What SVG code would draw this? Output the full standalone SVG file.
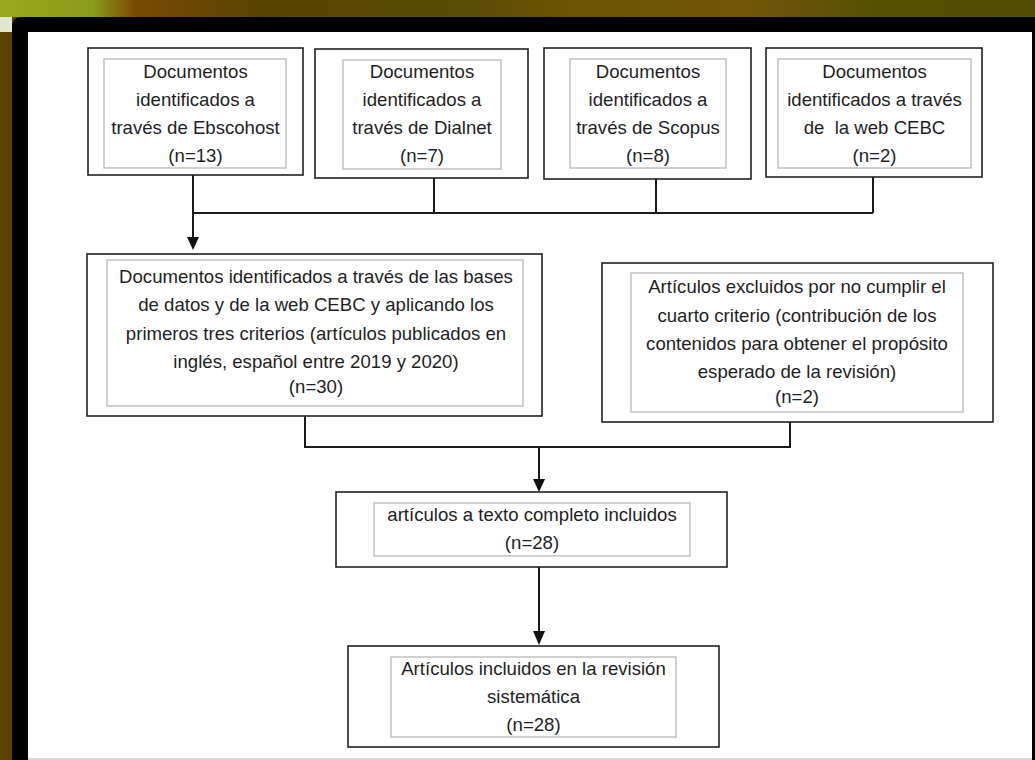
<svg xmlns="http://www.w3.org/2000/svg" width="1035" height="760" viewBox="0 0 1035 760">
<defs>
<linearGradient id="band" x1="0" y1="0" x2="1" y2="0">
<stop offset="0" stop-color="#9aa91c"/>
<stop offset="0.09" stop-color="#8a9a1a"/>
<stop offset="0.13" stop-color="#7a4a02"/>
<stop offset="0.25" stop-color="#584400"/>
<stop offset="0.45" stop-color="#5a4c02"/>
<stop offset="0.55" stop-color="#6c5404"/>
<stop offset="0.72" stop-color="#72560a"/>
<stop offset="0.85" stop-color="#555000"/>
<stop offset="1" stop-color="#4f4e00"/>
</linearGradient>
<marker id="arr" viewBox="0 0 12 12" markerWidth="12" markerHeight="12" refX="6" refY="11" orient="auto-start-reverse" markerUnits="userSpaceOnUse">
<path d="M0,0 L12,0 L6,11 Z" fill="#111" transform="rotate(-90 6 6)"/>
</marker>
<style>
.outer{fill:#fff;stroke:#222;stroke-width:1.6}
.inner{fill:none;stroke:#bdbdbd;stroke-width:1.4}
.t{font-family:"Liberation Sans",Arial,sans-serif;font-size:18.6px;fill:#1e1e24;text-anchor:middle}
.c{fill:none;stroke:#1a1a1a;stroke-width:2}
</style>
</defs>
<rect x="0" y="0" width="1035" height="760" fill="#5a4400"/>
<rect x="0" y="0" width="1035" height="17" fill="url(#band)"/>
<rect x="0" y="17" width="12" height="15" fill="#e2e6cc"/>
<path d="M12,760 L12,27 Q12,17 22,17 L1035,17 L1035,760 Z" fill="#000"/>
<rect x="28" y="32" width="1004" height="728" fill="#fff"/>
<line x1="28" y1="759" x2="1032" y2="759" stroke="#d8d8d8" stroke-width="2"/>

<g id="n1">
<rect class="outer" x="88" y="48" width="215" height="127"/>
<rect class="inner" x="104" y="59" width="182" height="109"/>
<text class="t" x="195.5" y="78">Documentos</text>
<text class="t" x="195.5" y="106">identificados a</text>
<text class="t" x="195.5" y="134">través de Ebscohost</text>
<text class="t" x="195.5" y="162">(n=13)</text>
</g>
<g id="n2">
<rect class="outer" x="315" y="49" width="213" height="129"/>
<rect class="inner" x="343" y="60" width="158" height="109"/>
<text class="t" x="422" y="78">Documentos</text>
<text class="t" x="422" y="106">identificados a</text>
<text class="t" x="422" y="134">través de Dialnet</text>
<text class="t" x="422" y="162">(n=7)</text>
</g>
<g id="n3">
<rect class="outer" x="544" y="48" width="207" height="131"/>
<rect class="inner" x="570" y="59" width="156" height="109"/>
<text class="t" x="648" y="78">Documentos</text>
<text class="t" x="648" y="106">identificados a</text>
<text class="t" x="648" y="134">través de Scopus</text>
<text class="t" x="648" y="162">(n=8)</text>
</g>
<g id="n4">
<rect class="outer" x="766" y="48" width="216" height="129"/>
<rect class="inner" x="778" y="59" width="193" height="109"/>
<text class="t" x="874.5" y="78">Documentos</text>
<text class="t" x="874.5" y="106">identificados a través</text>
<text class="t" x="874.5" y="134" style="white-space:pre">de  la web CEBC</text>
<text class="t" x="874.5" y="162">(n=2)</text>
</g>
<g id="n5">
<rect class="outer" x="87" y="254" width="455" height="162"/>
<rect class="inner" x="107" y="260" width="416" height="146"/>
<text class="t" x="316" y="283">Documentos identificados a través de las bases</text>
<text class="t" x="316" y="311">de datos y de la web CEBC y aplicando los</text>
<text class="t" x="316" y="340">primeros tres criterios (artículos publicados en</text>
<text class="t" x="316" y="368">inglés, español entre 2019 y 2020)</text>
<text class="t" x="316" y="393">(n=30)</text>
</g>
<g id="n6">
<rect class="outer" x="602" y="263" width="391" height="159"/>
<rect class="inner" x="631" y="273" width="332" height="139"/>
<text class="t" x="797" y="293">Artículos excluidos por no cumplir el</text>
<text class="t" x="797" y="322">cuarto criterio (contribución de los</text>
<text class="t" x="797" y="350">contenidos para obtener el propósito</text>
<text class="t" x="797" y="378">esperado de la revisión)</text>
<text class="t" x="797" y="403">(n=2)</text>
</g>
<g id="n7">
<rect class="outer" x="336" y="492" width="391" height="75"/>
<rect class="inner" x="374" y="503" width="316" height="53"/>
<text class="t" x="532" y="521">artículos a texto completo incluidos</text>
<text class="t" x="532" y="549">(n=28)</text>
</g>
<g id="n8">
<rect class="outer" x="348" y="646" width="371" height="101"/>
<rect class="inner" x="391" y="657" width="285" height="80"/>
<text class="t" x="533.5" y="675">Artículos incluidos en la revisión</text>
<text class="t" x="533.5" y="703">sistemática</text>
<text class="t" x="533.5" y="731">(n=28)</text>
</g>

<g id="connectors">
<path class="c" d="M434,178 V213 M656,179 V213 M873,177 V213 M193,213 H873"/>
<path class="c" d="M193,175 V238"/>
<path d="M187,237 L199,237 L193,250 Z" fill="#111"/>
<path class="c" d="M305,416 V447 H790 V422"/>
<path class="c" d="M539,447 V480"/>
<path d="M533,479 L545,479 L539,492 Z" fill="#111"/>
<path class="c" d="M539,567 V632"/>
<path d="M533,631 L545,631 L539,645 Z" fill="#111"/>
</g>
</svg>
